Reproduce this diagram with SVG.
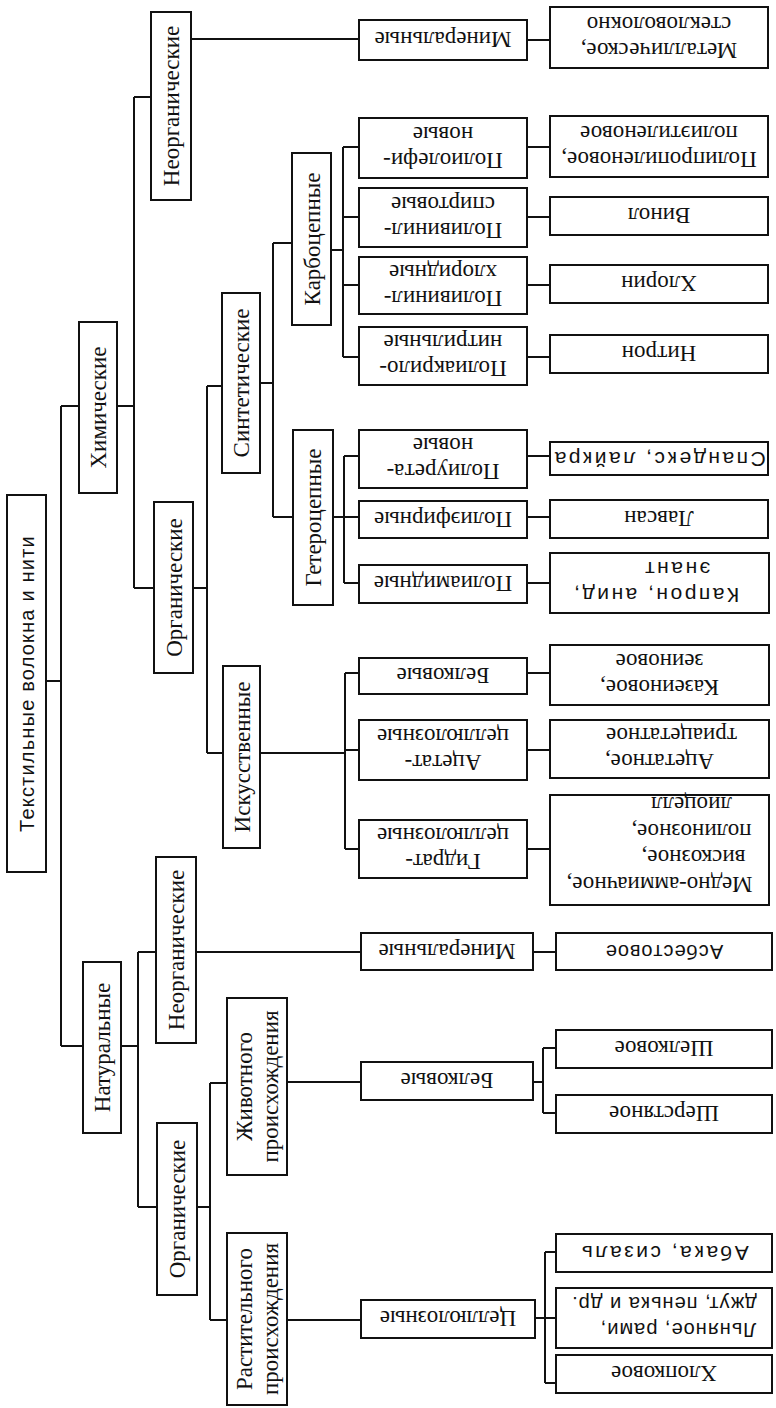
<svg xmlns="http://www.w3.org/2000/svg" width="776" height="1408" viewBox="0 0 776 1408">
<style>
rect{fill:#fff;stroke:#111;stroke-width:2}
#connectors path{fill:none;stroke:#111;stroke-width:2}
text{fill:#111;text-anchor:middle;font-family:"Liberation Serif","DejaVu Serif",serif;font-size:23px}
text.ss{font-family:"Liberation Sans","DejaVu Sans",sans-serif;font-size:21px;letter-spacing:2.5px}
text.ss2{font-family:"Liberation Sans","DejaVu Sans",sans-serif;font-size:20px;letter-spacing:1px}
text.root{font-family:"Liberation Sans","DejaVu Sans",sans-serif;font-size:20px;letter-spacing:1.2px}
</style>
<rect x="0" y="0" width="776" height="1408" style="fill:#fff;stroke:none"/>
<g id="connectors">
<path d="M46,681H61M61,406V1046M61,406H79M61,1046H83"/>
<path d="M117,406H134M134,97V588M134,97H151M134,588H154"/>
<path d="M191,39H359M527,40H550"/>
<path d="M193,588H207M207,386V753M207,386H222M207,753H223"/>
<path d="M260,383H273M273,243V517M273,243H292M273,517H293"/>
<path d="M331,250H343M343,147V357M343,147H359M343,217H359M343,285H359M343,357H359"/>
<path d="M527,147H550M527,217H550M527,285H550M527,357H550"/>
<path d="M333,517H344M344,456V583M344,456H359M344,517H359M344,583H359"/>
<path d="M527,456H550M527,517H550M527,583H550"/>
<path d="M260,753H345M345,673V849M345,673H359M345,750H359M345,849H359"/>
<path d="M527,673H550M527,750H550M527,849H550"/>
<path d="M121,1046H138M138,952V1207M138,952H156M138,1207H157"/>
<path d="M196,952H361M533,952H556"/>
<path d="M197,1207H210M210,1083V1320M210,1083H227M210,1320H227"/>
<path d="M287,1082H361M533,1082H543M543,1048V1113M543,1048H556M543,1113H556"/>
<path d="M287,1320H361M535,1318H545M545,1252V1383M545,1252H556M545,1318H556M545,1383H556"/>
</g>
<g id="root"><rect x="7" y="495" width="39" height="377"/><text class="root" transform="translate(26.5 683.5) rotate(-90)" y="7">Текстильные волокна и нити</text></g>
<g id="khim"><rect x="79" y="322" width="38" height="171"/><text transform="translate(98 407.5) rotate(-90)" y="8">Химические</text></g>
<g id="natur"><rect x="83" y="962" width="38" height="171"/><text transform="translate(102 1047.5) rotate(-90)" y="8">Натуральные</text></g>
<g id="neorg-chem"><rect x="151" y="12" width="40" height="188"/><text transform="translate(171 106) rotate(-90)" y="8">Неорганические</text></g>
<g id="org-chem"><rect x="154" y="502" width="39" height="171"/><text transform="translate(173.5 587.5) rotate(-90)" y="8">Органические</text></g>
<g id="neorg-nat"><rect x="156" y="857" width="40" height="186"/><text transform="translate(176 950) rotate(-90)" y="8">Неорганические</text></g>
<g id="org-nat"><rect x="157" y="1123" width="40" height="172"/><text transform="translate(177 1209) rotate(-90)" y="8">Органические</text></g>
<g id="sint"><rect x="222" y="293" width="38" height="180"/><text transform="translate(241 383) rotate(-90)" y="8">Синтетические</text></g>
<g id="iskus"><rect x="223" y="666" width="37" height="182"/><text transform="translate(241.5 757) rotate(-90)" y="8">Искусственные</text></g>
<g id="karbo"><rect x="292" y="153" width="39" height="172"/><text transform="translate(311.5 239) rotate(-90)" y="8">Карбоцепные</text></g>
<g id="getero"><rect x="293" y="430" width="40" height="175"/><text transform="translate(313 517.5) rotate(-90)" y="8">Гетероцепные</text></g>
<g id="zhiv"><rect x="227" y="998" width="60" height="177"/><text transform="translate(257 1086.5) rotate(-90)"><tspan x="0" y="-5">Животного</tspan><tspan x="0" y="21">происхождения</tspan></text></g>
<g id="rast"><rect x="227" y="1233" width="60" height="172"/><text transform="translate(257 1319) rotate(-90)"><tspan x="0" y="-5">Растительного</tspan><tspan x="0" y="21">происхождения</tspan></text></g>
<g id="min-chem"><rect x="359" y="20" width="168" height="40"/><text transform="translate(443 40) rotate(180)" y="8">Минеральные</text></g>
<g id="poliolef"><rect x="359" y="118" width="168" height="60"/><text transform="translate(443 148) rotate(180)"><tspan x="0" y="-5">Полиолефи-</tspan><tspan x="0" y="21">новые</tspan></text></g>
<g id="polivin-sp"><rect x="359" y="188" width="168" height="59"/><text transform="translate(443 217.5) rotate(180)"><tspan x="0" y="-5">Поливинил-</tspan><tspan x="0" y="21">спиртовые</tspan></text></g>
<g id="polivin-hl"><rect x="359" y="257" width="168" height="57"/><text transform="translate(443 285.5) rotate(180)"><tspan x="0" y="-5">Поливинил-</tspan><tspan x="0" y="21">хлоридные</tspan></text></g>
<g id="poliakr"><rect x="359" y="327" width="168" height="58"/><text transform="translate(443 356) rotate(180)"><tspan x="0" y="-5">Полиакрило-</tspan><tspan x="0" y="21">нитрильные</tspan></text></g>
<g id="poliur"><rect x="359" y="430" width="168" height="58"/><text transform="translate(443 459) rotate(180)"><tspan x="0" y="-5">Полиурета-</tspan><tspan x="0" y="21">новые</tspan></text></g>
<g id="poliefir"><rect x="359" y="501" width="168" height="37"/><text transform="translate(443 519.5) rotate(180)" y="8">Полиэфирные</text></g>
<g id="poliamid"><rect x="359" y="565" width="168" height="38"/><text transform="translate(443 584) rotate(180)" y="8">Полиамидные</text></g>
<g id="belk-chem"><rect x="359" y="658" width="168" height="36"/><text transform="translate(443 676) rotate(180)" y="8">Белковые</text></g>
<g id="acetat-cell"><rect x="359" y="720" width="168" height="60"/><text transform="translate(443 750) rotate(180)"><tspan x="0" y="-5">Ацетат-</tspan><tspan x="0" y="21">целлюлозные</tspan></text></g>
<g id="gidrat-cell"><rect x="359" y="820" width="168" height="58"/><text transform="translate(443 849) rotate(180)"><tspan x="0" y="-5">Гидрат-</tspan><tspan x="0" y="21">целлюлозные</tspan></text></g>
<g id="min-nat"><rect x="361" y="933" width="172" height="37"/><text transform="translate(447 951.5) rotate(180)" y="8">Минеральные</text></g>
<g id="belk-nat"><rect x="361" y="1062" width="172" height="38"/><text transform="translate(447 1081) rotate(180)" y="8">Белковые</text></g>
<g id="cell"><rect x="361" y="1300" width="174" height="38"/><text transform="translate(448 1319) rotate(180)" y="8">Целлюлозные</text></g>
<g id="metal"><rect x="550" y="7" width="218" height="61"/><text transform="translate(659 37.5) rotate(180)"><tspan x="0" y="-5">Металлическое,</tspan><tspan x="0" y="21">стекловолокно</tspan></text></g>
<g id="polipro"><rect x="550" y="116" width="218" height="61"/><text transform="translate(659 146.5) rotate(180)"><tspan x="0" y="-5">Полипропиленовое,</tspan><tspan x="0" y="21">полиэтиленовое</tspan></text></g>
<g id="vinol"><rect x="550" y="197" width="218" height="38"/><text transform="translate(659 216) rotate(180)" y="8">Винол</text></g>
<g id="hlorin"><rect x="550" y="265" width="218" height="38"/><text transform="translate(659 284) rotate(180)" y="8">Хлорин</text></g>
<g id="nitron"><rect x="550" y="335" width="218" height="38"/><text transform="translate(659 354) rotate(180)" y="8">Нитрон</text></g>
<g id="spandex"><rect x="550" y="442" width="218" height="33"/><text class="ss" transform="translate(659 458.5) rotate(180)" y="7">Спандекс, лайкра</text></g>
<g id="lavsan"><rect x="550" y="500" width="218" height="38"/><text transform="translate(659 519) rotate(180)" y="8">Лавсан</text></g>
<g id="kapron"><rect x="550" y="553" width="219" height="60"/><text class="ss" transform="translate(659.5 583) rotate(180)"><tspan x="4" y="-5">Капрон, анид,</tspan><tspan x="-17" y="21">энант</tspan></text></g>
<g id="kazein"><rect x="550" y="645" width="219" height="60"/><text transform="translate(659.5 675) rotate(180)"><tspan x="0" y="-5">Казеиновое,</tspan><tspan x="0" y="21">зеиновое</tspan></text></g>
<g id="acetatnoe"><rect x="550" y="720" width="219" height="58"/><text transform="translate(659.5 749) rotate(180)"><tspan x="0" y="-5">Ацетатное,</tspan><tspan x="-12" y="21">триацетатное</tspan></text></g>
<g id="medno"><rect x="550" y="795" width="219" height="110"/><text transform="translate(659.5 850) rotate(180)"><tspan x="0" y="-26.75">Медно-аммиачное,</tspan><tspan x="-34" y="-0.25">вискозное,</tspan><tspan x="-32" y="26.25">полинозное,</tspan><tspan x="-32" y="52.75">лиоцелл</tspan></text></g>
<g id="asbest"><rect x="556" y="933" width="216" height="37"/><text class="ss2" transform="translate(664 951.5) rotate(180)" y="7">Асбестовое</text></g>
<g id="shelk"><rect x="556" y="1030" width="216" height="38"/><text transform="translate(664 1049) rotate(180)" y="8">Шелковое</text></g>
<g id="sherst"><rect x="556" y="1095" width="216" height="38"/><text transform="translate(664 1114) rotate(180)" y="8">Шерстяное</text></g>
<g id="abaka"><rect x="556" y="1234" width="216" height="38"/><text class="ss" transform="translate(664 1253) rotate(180)" y="7">Абака, сизаль</text></g>
<g id="lnyanoe"><rect x="556" y="1288" width="216" height="60"/><text class="ss2" transform="translate(664 1318) rotate(180)"><tspan x="-14" y="-5">Льняное, рами,</tspan><tspan x="0" y="21">джут, пенька и др.</tspan></text></g>
<g id="hlopok"><rect x="556" y="1355" width="216" height="38"/><text transform="translate(664 1374) rotate(180)" y="8">Хлопковое</text></g>
</svg>
